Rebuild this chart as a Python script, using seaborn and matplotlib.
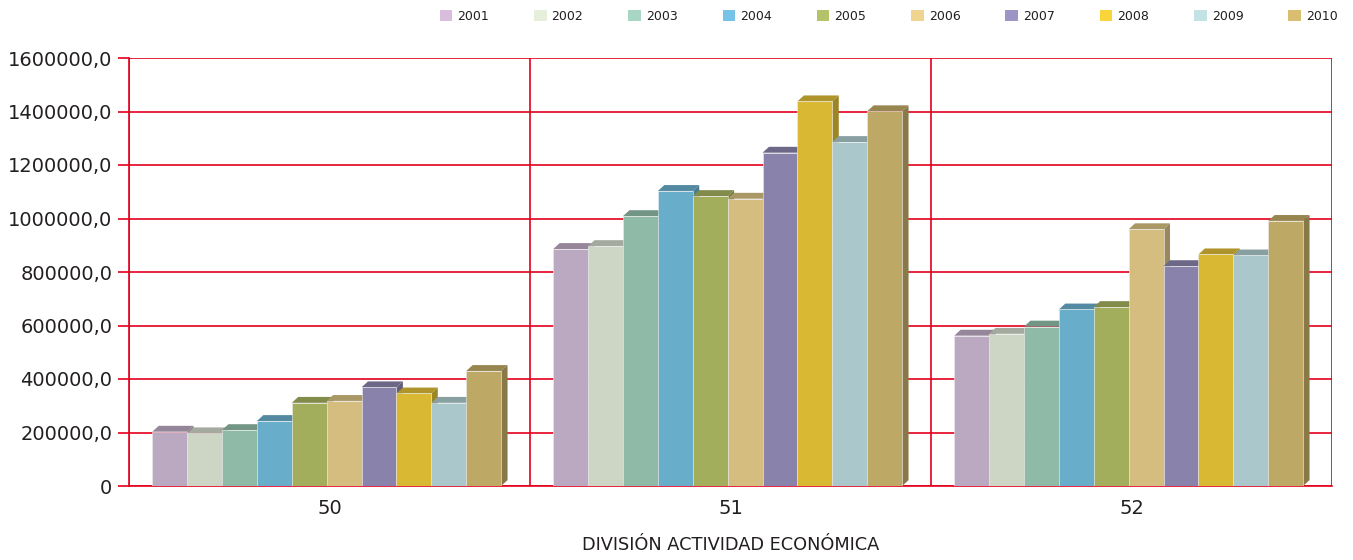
import pandas as pd
import matplotlib
matplotlib.use('Agg')
import matplotlib.pyplot as plt
from matplotlib.patches import Polygon, Patch
from matplotlib.ticker import FuncFormatter, MultipleLocator
import matplotlib.colors as mcolors
import seaborn as sns

divisiones = ['50', '51', '52']
anios = ['2001', '2002', '2003', '2004', '2005', '2006', '2007', '2008', '2009', '2010']

valores_50 = [203000, 197000, 209000, 243000, 311000, 318000, 369000, 346000, 311000, 430000]
valores_51 = [886000, 897000, 1009000, 1103000, 1084000, 1074000, 1246000, 1438000, 1286000, 1401000]
valores_52 = [562000, 569000, 596000, 660000, 669000, 960000, 822000, 866000, 862000, 991000]

colores_barra = ['#BBA8C1', '#CDD5C5', '#8FBAA8', '#68ADCA', '#A2AE5C',
                 '#D5BD80', '#8982AA', '#D9B934', '#AAC8CB', '#BEA865']
colores_leyenda = ['#D8BEDC', '#E6EEDC', '#A8D6C4', '#77C3E8', '#B4C36A',
                   '#F0D591', '#9D95C6', '#F9D43A', '#C2E2E4', '#D9BE72']

rojo = '#E3001B'
texto = '#231F20'

sns.set_style('white')
plt.rcParams['font.family'] = ['DejaVu Sans']

filas = []
for div, vals in zip(divisiones, [valores_50, valores_51, valores_52]):
    for a, v in zip(anios, vals):
        filas.append({'division': div, 'anio': a, 'valor': v})
df = pd.DataFrame(filas)

fig = plt.figure(figsize=(13.53, 5.6), dpi=100)
ax = fig.add_axes([129 / 1353, 1 - 486 / 560, (1332 - 129) / 1353, (486 - 58) / 560])

sns.barplot(data=df, x='division', y='valor', hue='anio', order=divisiones,
            hue_order=anios, palette=colores_barra, width=0.87, dodge=True,
            saturation=1, errorbar=None, legend=False, ax=ax,
            edgecolor='#EDEDED', linewidth=0.4)

# caras 3D (superior y lateral) de cada barra
dx = 0.016
dy = 22000
parches = sorted([p for p in ax.patches if p.get_height() > 0], key=lambda p: p.get_x())
for r, p in enumerate(parches):
    p.set_x(p.get_x() - 0.007)
    x0 = p.get_x()
    x1 = x0 + p.get_width()
    h = p.get_height()
    rgb = mcolors.to_rgb(p.get_facecolor())
    top = tuple(v * 0.8 for v in rgb)
    side = tuple(v * 0.72 for v in rgb)
    ax.add_patch(Polygon([(x0, h), (x0 + dx, h + dy), (x1 + dx, h + dy), (x1, h)],
                         closed=True, facecolor=top, edgecolor='none', zorder=3 + r * 0.01))
    ax.add_patch(Polygon([(x1, 0), (x1 + dx, dy), (x1 + dx, h + dy), (x1, h)],
                         closed=True, facecolor=side, edgecolor='none', zorder=3 + r * 0.01))
    p.set_zorder(3.005 + r * 0.01)

ax.set_xlim(-0.5, 2.5)
ax.set_ylim(0, 1600000)
ax.yaxis.set_major_locator(MultipleLocator(200000))
ax.yaxis.set_major_formatter(FuncFormatter(
    lambda v, pos: '0' if v == 0 else f'{v:.1f}'.replace('.', ',')))

ax.set_xticks([0, 1, 2])
ax.set_xticks([-0.5, 0.5, 1.5, 2.5], minor=True)
ax.tick_params(axis='x', which='major', length=0, pad=9, labelsize=14, labelcolor=texto)
ax.tick_params(axis='x', which='minor', length=10, width=1.2, color=rojo, direction='out')
ax.tick_params(axis='y', which='major', length=8, width=1.2, color=rojo, left=True,
               labelsize=14, labelcolor=texto, pad=4)

ax.set_axisbelow(True)
ax.grid(axis='y', which='major', color=rojo, linewidth=1.2)
ax.grid(axis='x', which='minor', color=rojo, linewidth=1.2)
ax.grid(axis='x', which='major', visible=False)

for s in ['top', 'right']:
    ax.spines[s].set_visible(False)
for s in ['left', 'bottom']:
    ax.spines[s].set_color(rojo)
    ax.spines[s].set_linewidth(1.2)

ax.set_ylabel('')
ax.set_xlabel('DIVISIÓN ACTIVIDAD ECONÓMICA', fontsize=12.8, color=texto, labelpad=13)

handles = [Patch(facecolor=c, edgecolor='none') for c in colores_leyenda]
fig.legend(handles, anios, loc='upper right', bbox_to_anchor=(0.997, 1.003), ncol=10,
           frameon=False, fontsize=9, handlelength=1.0, handleheight=1.0,
           handletextpad=0.4, columnspacing=3.6, labelcolor=texto)

fig.savefig('out.png', dpi=100)
